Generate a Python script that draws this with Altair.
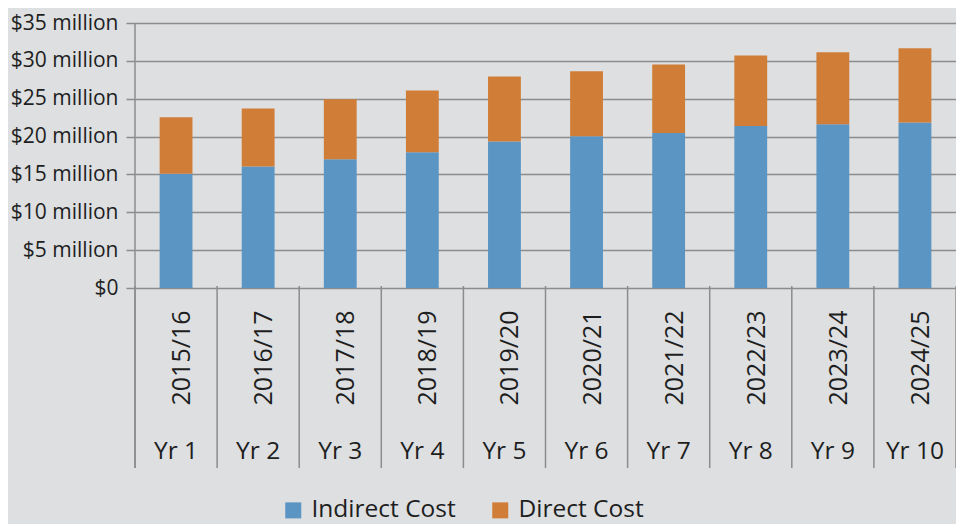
import altair as alt
import pandas as pd

years = ["2015/16", "2016/17", "2017/18", "2018/19", "2019/20",
         "2020/21", "2021/22", "2022/23", "2023/24", "2024/25"]
yr_labels = ["Yr 1", "Yr 2", "Yr 3", "Yr 4", "Yr 5",
             "Yr 6", "Yr 7", "Yr 8", "Yr 9", "Yr 10"]
indirect = [15.08, 16.04, 16.99, 17.94, 19.34, 20.03, 20.47, 21.38, 21.64, 21.85]
direct = [7.47, 7.68, 7.94, 8.13, 8.59, 8.59, 9.06, 9.32, 9.51, 9.82]
series = ["Indirect Cost", "Direct Cost"]
colors = ["#5b95c4", "#d07e37"]

FONT = "Open Sans"
TXT = "#1e1e1e"
GRID = "#8c8c8c"
BG = "#dddfe1"

rows = []
for i, (yv, ind, dirc) in enumerate(zip(years, indirect, direct)):
    rows.append({"idx": i, "year": yv, "series": series[0], "y0": 0.0, "y1": ind})
    rows.append({"idx": i, "year": yv, "series": series[1], "y0": ind, "y1": ind + dirc})
bars_df = pd.DataFrame(rows)

labels_df = pd.DataFrame({"idx": list(range(len(years))), "year": years, "yr": yr_labels})
sep_df = pd.DataFrame({"pos": list(range(len(years) + 1))})

TOP = 15
W, H = 821, 265
BOTTOM_Y = 468 - 8 - TOP  # separator bottom, in plot coordinates

xscale = alt.Scale(domain=[0, len(years)], nice=False, zero=False)
yscale = alt.Scale(domain=[0, 35], nice=False)

bars = alt.Chart(bars_df).transform_calculate(
    x0="datum.idx + 0.3",
    x1="datum.idx + 0.7",
).mark_rect().encode(
    x=alt.X("x0:Q", scale=xscale, axis=None),
    x2="x1:Q",
    y=alt.Y("y0:Q", scale=yscale,
            axis=alt.Axis(values=[0, 5, 10, 15, 20, 25, 30, 35],
                          labelExpr="datum.value == 0 ? '$0' : '$' + datum.value + ' million'",
                          title=None, domain=False, grid=True, gridColor=GRID,
                          gridWidth=1.5, tickColor=GRID, tickWidth=1.5, tickSize=9,
                          labelPadding=8, labelFont=FONT, labelFontSize=21,
                          labelColor=TXT)),
    y2="y1:Q",
    color=alt.Color("series:N",
                    scale=alt.Scale(domain=series, range=colors),
                    legend=alt.Legend(title=None, orient="none", direction="horizontal",
                                      legendX=146, legendY=475, symbolType="square",
                                      symbolSize=256, symbolStrokeWidth=0,
                                      labelFont=FONT, labelFontSize=24.5, labelColor=TXT,
                                      labelOffset=6, columnPadding=32)),
)

left_line = alt.Chart(pd.DataFrame({"pos": [0]})).mark_rule(
    color=GRID, strokeWidth=1.5).encode(
    x=alt.X("pos:Q", scale=xscale, axis=None),
    y=alt.value(0), y2=alt.value(BOTTOM_Y),
)

seps = alt.Chart(sep_df).mark_rule(color=GRID, strokeWidth=1.5).encode(
    x=alt.X("pos:Q", scale=xscale, axis=None),
    y=alt.value(H - 2), y2=alt.value(BOTTOM_Y),
)

rot_text = alt.Chart(labels_df).transform_calculate(
    xc="datum.idx + 0.5"
).mark_text(angle=270, align="center", baseline="middle", font=FONT,
            fontSize=25, color=TXT, dy=6).encode(
    x=alt.X("xc:Q", scale=xscale, axis=None),
    y=alt.value(358 - 8 - TOP),
    text="year:N",
)

yr_text = alt.Chart(labels_df).transform_calculate(
    xc="datum.idx + 0.5"
).mark_text(align="center", baseline="middle", font=FONT,
            fontSize=24.5, color=TXT).encode(
    x=alt.X("xc:Q", scale=xscale, axis=None),
    y=alt.value(452 - 8 - TOP),
    text="yr:N",
)

chart = alt.layer(bars, left_line, seps, rot_text, yr_text).properties(
    width=W, height=H,
    autosize=alt.AutoSizeParams(type="none"),
    padding={"left": 127, "top": TOP, "right": 0, "bottom": 516 - TOP - H},
    background=BG,
).configure_view(stroke=None)

chart.save("out.html", embed_options={"renderer": "svg", "actions": False})
